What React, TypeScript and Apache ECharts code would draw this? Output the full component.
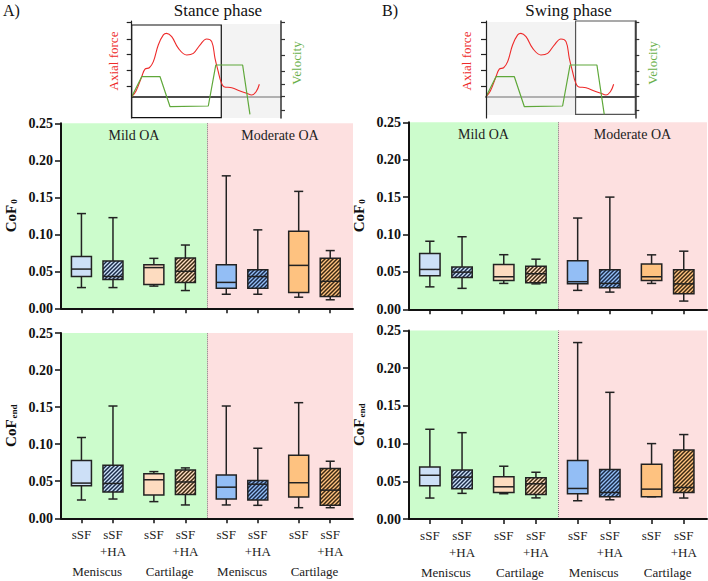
import React, { useEffect, useRef } from "react";
import * as echarts from "echarts";

const FONT = "'Liberation Serif', 'Times New Roman', serif";

// ---------- data ----------
const boxLabels = ["sSF", "sSF\n+HA", "sSF", "sSF\n+HA", "sSF", "sSF\n+HA", "sSF", "sSF\n+HA"];
const tissueLabels = ["Meniscus", "Cartilage", "Meniscus", "Cartilage"];
const severityLabels = ["Mild OA", "Moderate OA"];
const panelTitles = ["Stance phase", "Swing phase"];
const panelLetters = ["A)", "B)"];

// each row: [min, q1, median, q3, max]
const stanceCoF0 = [
  [0.028, 0.043, 0.053, 0.070, 0.128],
  [0.028, 0.039, 0.043, 0.064, 0.1225],
  [0.030, 0.032, 0.055, 0.059, 0.0675],
  [0.024, 0.035, 0.050, 0.068, 0.0855],
  [0.019, 0.027, 0.035, 0.059, 0.179],
  [0.019, 0.027, 0.043, 0.052, 0.106],
  [0.015, 0.0215, 0.058, 0.104, 0.158],
  [0.0115, 0.016, 0.0365, 0.0675, 0.078],
];
const stanceCoFend = [
  [0.0247, 0.044, 0.0475, 0.078, 0.109],
  [0.026, 0.0355, 0.047, 0.0715, 0.1515],
  [0.0225, 0.0315, 0.052, 0.060, 0.063],
  [0.018, 0.032, 0.049, 0.065, 0.068],
  [0.018, 0.026, 0.042, 0.0585, 0.1515],
  [0.0175, 0.0247, 0.046, 0.051, 0.0945],
  [0.0143, 0.0287, 0.048, 0.085, 0.156],
  [0.0143, 0.0175, 0.038, 0.0673, 0.077],
];
const swingCoF0 = [
  [0.030, 0.045, 0.0533, 0.0746, 0.091],
  [0.028, 0.0426, 0.0497, 0.0564, 0.097],
  [0.0346, 0.0386, 0.0435, 0.060, 0.073],
  [0.034, 0.0355, 0.0475, 0.0577, 0.067],
  [0.0253, 0.034, 0.0369, 0.0648, 0.122],
  [0.023, 0.0289, 0.0346, 0.0528, 0.150],
  [0.0346, 0.0386, 0.0435, 0.0604, 0.0728],
  [0.011, 0.0209, 0.034, 0.0528, 0.0777],
];
const swingCoFend = [
  [0.0278, 0.044, 0.058, 0.069, 0.119],
  [0.034, 0.040, 0.0555, 0.065, 0.1145],
  [0.0335, 0.0352, 0.0427, 0.056, 0.070],
  [0.028, 0.0326, 0.0467, 0.0546, 0.062],
  [0.0242, 0.0335, 0.0405, 0.0775, 0.234],
  [0.0255, 0.0295, 0.0352, 0.0656, 0.168],
  [0.0295, 0.0295, 0.0396, 0.0727, 0.100],
  [0.0278, 0.0352, 0.0418, 0.0916, 0.112],
];

// inset: gait cycle (%) vs axial force / velocity (arbitrary units)
const forceTime = [0, 2.9, 6.7, 8.9, 11.8, 14.5, 17.8, 21.2, 23.4, 26.8, 31.2, 36.8, 41.3, 45.7, 50.2, 53.6, 55.8, 58, 59.8, 61.8, 67, 72.6, 77, 80.4, 83.3, 85.5];
const axialForce = [0, 0.36, 1.25, 1.73, 1.81, 2.19, 3.23, 3.86, 3.96, 3.75, 3.03, 2.61, 2.71, 3.23, 3.61, 3.44, 2.4, 1.56, 0.94, 0.63, 0.56, 0.36, 0.21, 0.11, 0.31, 0.78];
const velocityTime = [0, 6.7, 19, 25.7, 51.3, 56.3, 74.3, 79.2];
const velocity = [0, 1.25, 1.25, -0.625, -0.58, 1.98, 1.98, -1.1];
const forceTicks = [0.63, 1.67, 2.65, 3.6, 4.65];
const velocityTicks = [-0.83, 0, 0.78, 1.56, 2.56, 3.59, 4.65];

// ---------- layout / style ----------
const boxPositions = boxLabels.map((_, i) => 7 + (i % 2) * 10.8 + Math.floor(i / 2) * 24.8);
const tissueCenters = tissueLabels.map((_, i) => (boxPositions[2 * i] + boxPositions[2 * i + 1]) / 2);
const BOX_W = 6.85;
const CAP_W = 3.1;
const baseFills = ["#cde0f7", "#cde0f7", "#fddcc0", "#fddcc0", "#93bef5", "#93bef5", "#fec280", "#fec280"];
const hatchInk = ["", "#1a2a48", "", "#3a2812", "", "#1a2a48", "", "#3a2812"];

const panels = [
  { grid: { left: 61, top: 123.3, width: 292, height: 185 }, data: stanceCoF0, sub: "0", labels: false },
  { grid: { left: 61, top: 333, width: 292, height: 185.3 }, data: stanceCoFend, sub: "end", labels: true },
  { grid: { left: 409, top: 122.3, width: 298, height: 187 }, data: swingCoF0, sub: "0", labels: false },
  { grid: { left: 409, top: 330.5, width: 298, height: 188.5 }, data: swingCoFend, sub: "end", labels: true },
];

const insets = [
  { left: 131.7, shade: [60, 100, -1.33, 4.54], box: [0, 60, -1.31, 4.48], boxColor: "#111" },
  { left: 486, shade: [0, 60, -1.14, 4.67], box: [60, 100, -1.1, 4.73], boxColor: "#555" },
];

function hatch(base: string, ink: string) {
  const c = document.createElement("canvas");
  const s = 4;
  c.width = s;
  c.height = s;
  const ctx = c.getContext("2d")!;
  ctx.fillStyle = base;
  ctx.fillRect(0, 0, s, s);
  ctx.strokeStyle = ink;
  ctx.lineWidth = 1.5;
  ctx.beginPath();
  ctx.moveTo(0, s);
  ctx.lineTo(s, 0);
  ctx.moveTo(-1, 1);
  ctx.lineTo(1, -1);
  ctx.moveTo(s - 1, s + 1);
  ctx.lineTo(s + 1, s - 1);
  ctx.stroke();
  return { image: c, repeat: "repeat" };
}

function nearestIndex(arr: number[], v: number) {
  let best = 0;
  arr.forEach((a, i) => {
    if (Math.abs(a - v) < Math.abs(arr[best] - v)) best = i;
  });
  return best;
}

function buildOption() {
  const fills = baseFills.map((b, i) => (hatchInk[i] ? hatch(b, hatchInk[i]) : b));
  const grids: any[] = [];
  const xAxes: any[] = [];
  const yAxes: any[] = [];
  const series: any[] = [];

  panels.forEach((p, pi) => {
    grids.push({ ...p.grid, containLabel: false, outerBoundsMode: "none" });
    const xi = xAxes.length;
    xAxes.push({
      type: "value",
      gridIndex: pi,
      position: "bottom",
      min: 0,
      max: 100,
      z: 10,
      axisLine: { show: true, onZero: false, lineStyle: { color: "#111", width: 2 } },
      axisTick: { show: true, customValues: boxPositions, length: 5, lineStyle: { color: "#111", width: 1.5 } },
      axisLabel: {
        show: p.labels,
        customValues: boxPositions,
        formatter: (v: number) => boxLabels[nearestIndex(boxPositions, v)],
        margin: 8,
        fontFamily: FONT,
        fontSize: 13,
        lineHeight: 17,
        color: "#222",
      },
      splitLine: { show: false },
    });
    if (p.labels) {
      xAxes.push({
        type: "value",
        gridIndex: pi,
        position: "bottom",
        offset: 0,
        min: 0,
        max: 100,
        axisLine: { show: false, onZero: false },
        axisTick: { show: false },
        splitLine: { show: false },
        axisLabel: {
          customValues: tissueCenters,
          formatter: (v: number) => tissueLabels[nearestIndex(tissueCenters, v)],
          margin: 47,
          fontFamily: FONT,
          fontSize: 13,
          color: "#222",
        },
      });
    }
    const yi = yAxes.length;
    yAxes.push({
      type: "value",
      gridIndex: pi,
      min: 0,
      max: 0.25,
      interval: 0.05,
      z: 10,
      axisLine: { show: true, lineStyle: { color: "#111", width: 2 } },
      axisTick: { show: true, length: 6, lineStyle: { color: "#111", width: 1.5 } },
      axisLabel: {
        formatter: (v: number) => v.toFixed(2),
        fontFamily: FONT,
        fontWeight: "bold",
        fontSize: 14,
        color: "#111",
        margin: 8,
      },
      splitLine: { show: false },
      name: `{a|CoF}{b|${p.sub}}`,
      nameLocation: "middle",
      nameRotate: 90,
      nameGap: 43,
      nameMoveOverlap: false,
      nameTextStyle: {
        rich: {
          a: { fontFamily: FONT, fontWeight: "bold", fontSize: 15, lineHeight: 15, verticalAlign: "top", color: "#111" },
          b: { fontFamily: FONT, fontWeight: "bold", fontSize: 9, lineHeight: 9, verticalAlign: "bottom", padding: [8, 0, 0, 1], color: "#111" },
        },
      },
    });

    series.push({
      type: "line",
      xAxisIndex: xi,
      yAxisIndex: yi,
      data: [],
      z: 1,
      silent: true,
      markArea: {
        silent: true,
        label: {
          show: !p.labels,
          position: "insideTop",
          distance: 5,
          fontFamily: FONT,
          fontSize: 14,
          color: "#222",
        },
        data: [
          [{ xAxis: 0, name: severityLabels[0], itemStyle: { color: "#ccfccc" } }, { xAxis: 50 }],
          [{ xAxis: 50, name: severityLabels[1], itemStyle: { color: "#fde0e0" } }, { xAxis: 100 }],
        ],
      },
      markLine: {
        silent: true,
        symbol: ["none", "none"],
        label: { show: false },
        lineStyle: { type: "dotted", color: "#777", width: 1 },
        data: [{ xAxis: 50 }],
      },
    });

    series.push({
      type: "custom",
      xAxisIndex: xi,
      yAxisIndex: yi,
      z: 5,
      encode: { x: 0, y: [1, 2, 3, 4, 5] },
      data: p.data.map((r, i) => [boxPositions[i], ...r]),
      renderItem: (params: any, api: any) => {
        const x = api.value(0);
        const pMin = api.coord([x, api.value(1)]);
        const pQ1 = api.coord([x, api.value(2)]);
        const pMed = api.coord([x, api.value(3)]);
        const pQ3 = api.coord([x, api.value(4)]);
        const pMax = api.coord([x, api.value(5)]);
        const hw = api.size([BOX_W, 0])[0] / 2;
        const cw = api.size([CAP_W, 0])[0] / 2;
        const cx = pMin[0];
        const st = { stroke: "#222", lineWidth: 1.5 };
        return {
          type: "group",
          children: [
            { type: "line", shape: { x1: cx, y1: pMax[1], x2: cx, y2: pQ3[1] }, style: st },
            { type: "line", shape: { x1: cx, y1: pQ1[1], x2: cx, y2: pMin[1] }, style: st },
            { type: "line", shape: { x1: cx - cw, y1: pMax[1], x2: cx + cw, y2: pMax[1] }, style: st },
            { type: "line", shape: { x1: cx - cw, y1: pMin[1], x2: cx + cw, y2: pMin[1] }, style: st },
            {
              type: "rect",
              shape: { x: cx - hw, y: pQ3[1], width: 2 * hw, height: pQ1[1] - pQ3[1] },
              style: { fill: fills[params.dataIndex], stroke: "#222", lineWidth: 1.5 },
            },
            { type: "line", shape: { x1: cx - hw, y1: pMed[1], x2: cx + hw, y2: pMed[1] }, style: st },
          ],
        };
      },
    });
  });

  // insets
  insets.forEach((ins) => {
    const gi = grids.length;
    grids.push({ left: ins.left, top: 21, width: 149.3, height: 97, containLabel: false, outerBoundsMode: "none" });
    const xi = xAxes.length;
    xAxes.push({
      type: "value",
      gridIndex: gi,
      position: "bottom",
      min: 0,
      max: 100,
      axisLine: { show: true, onZero: true, lineStyle: { color: "#111", width: 1.5 } },
      axisTick: { show: false },
      axisLabel: { show: false },
      splitLine: { show: false },
    });
    const yl = yAxes.length;
    yAxes.push({
      type: "value",
      gridIndex: gi,
      position: "left",
      min: -1.33,
      max: 4.73,
      z: 20,
      axisLine: { show: true, onZero: false, lineStyle: { color: "#222", width: 1.2 } },
      axisTick: { show: true, customValues: forceTicks, length: 5, lineStyle: { color: "#222", width: 1.2 } },
      axisLabel: { show: false },
      splitLine: { show: false },
    });
    yAxes.push({
      type: "value",
      gridIndex: gi,
      position: "right",
      min: -1.33,
      max: 4.73,
      z: 20,
      axisLine: { show: true, onZero: false, lineStyle: { color: "#333", width: 1.5 } },
      axisTick: { show: true, customValues: velocityTicks, length: 4, lineStyle: { color: "#333", width: 1.2 } },
      axisLabel: { show: false },
      splitLine: { show: false },
    });
    series.push({
      type: "line",
      xAxisIndex: xi,
      yAxisIndex: yl,
      data: forceTime.map((t, i) => [t, axialForce[i]]),
      smooth: 0.4,
      showSymbol: false,
      z: 3,
      lineStyle: { color: "#ee2a2a", width: 1.1 },
    });
    series.push({
      type: "line",
      xAxisIndex: xi,
      yAxisIndex: yl,
      data: velocityTime.map((t, i) => [t, velocity[i]]),
      showSymbol: false,
      z: 3,
      lineStyle: { color: "#5fa83a", width: 1.2 },
    });
    series.push({
      type: "line",
      xAxisIndex: xi,
      yAxisIndex: yl,
      data: [],
      z: 10,
      silent: true,
      markArea: {
        silent: true,
        itemStyle: { color: "rgba(236,236,236,0.63)" },
        data: [[{ xAxis: ins.shade[0], yAxis: ins.shade[2] }, { xAxis: ins.shade[1], yAxis: ins.shade[3] }]],
      },
    });
    series.push({
      type: "line",
      xAxisIndex: xi,
      yAxisIndex: yl,
      data: [],
      z: 11,
      silent: true,
      markArea: {
        silent: true,
        itemStyle: { color: "rgba(0,0,0,0)", borderColor: ins.boxColor, borderWidth: 1.2 },
        data: [[{ xAxis: ins.box[0], yAxis: ins.box[2] }, { xAxis: ins.box[1], yAxis: ins.box[3] }]],
      },
    });
  });

  const txt = (x: number, y: number, text: string, size: number, fill: string, align: string, rotate = 0) => ({
    type: "text",
    x,
    y,
    rotation: rotate,
    style: {
      text,
      font: `${size}px 'Liberation Serif', serif`,
      fontFamily: "'Liberation Serif', serif",
      fontSize: size,
      fill,
      align,
      verticalAlign: "middle",
    },
  });
  const graphic: any[] = [
    txt(3, 10, panelLetters[0], 16, "#111", "left"),
    txt(218, 10, panelTitles[0], 17, "#111", "center"),
    txt(382, 10, panelLetters[1], 16, "#111", "left"),
    txt(568.5, 10, panelTitles[1], 17, "#111", "center"),
    txt(113, 61, "Axial force", 13, "#ee2a2a", "center", Math.PI / 2),
    txt(296.5, 63, "Velocity", 13, "#6ab04a", "center", Math.PI / 2),
    txt(466, 61, "Axial force", 13, "#ee2a2a", "center", Math.PI / 2),
    txt(652, 63, "Velocity", 13, "#6ab04a", "center", Math.PI / 2),
  ];

  return {
    animation: false,
    backgroundColor: "#ffffff",
    textStyle: { fontFamily: FONT },
    grid: grids,
    xAxis: xAxes,
    yAxis: yAxes,
    series,
    graphic,
  };
}

export default function App() {
  const ref = useRef<HTMLDivElement>(null);
  useEffect(() => {
    document.body.style.margin = "0";
    const chart = echarts.init(ref.current!, null, { renderer: "svg" });
    chart.setOption(buildOption() as any);
    return () => chart.dispose();
  }, []);
  return <div ref={ref} style={{ width: 708, height: 581 }} />;
}
